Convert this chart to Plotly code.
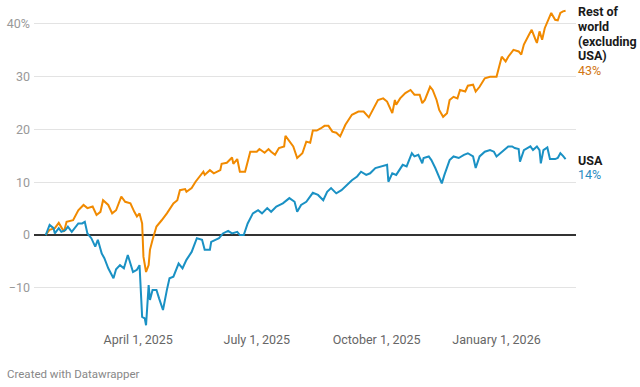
import plotly.graph_objects as go

# ---- Data (cumulative % change since Jan 20, 2025) ----
row_dates = [
    "2025-01-20", "2025-01-23", "2025-01-27", "2025-01-30", "2025-02-03", "2025-02-05",
    "2025-02-10", "2025-02-14", "2025-02-18", "2025-02-21", "2025-02-25", "2025-02-28",
    "2025-03-03", "2025-03-05", "2025-03-09", "2025-03-12", "2025-03-15", "2025-03-19",
    "2025-03-22", "2025-03-26", "2025-03-29", "2025-03-31", "2025-04-02", "2025-04-04",
    "2025-04-05", "2025-04-07", "2025-04-09", "2025-04-10", "2025-04-12", "2025-04-15",
    "2025-04-19", "2025-04-23", "2025-04-28", "2025-05-01", "2025-05-03", "2025-05-07",
    "2025-05-08", "2025-05-12", "2025-05-15", "2025-05-21", "2025-05-22", "2025-05-26",
    "2025-05-29", "2025-06-03", "2025-06-04", "2025-06-08", "2025-06-12", "2025-06-13",
    "2025-06-16", "2025-06-18", "2025-06-22", "2025-06-24", "2025-06-26", "2025-07-01",
    "2025-07-03", "2025-07-07", "2025-07-10", "2025-07-12", "2025-07-15", "2025-07-18",
    "2025-07-22", "2025-07-23", "2025-07-26", "2025-07-29", "2025-08-01", "2025-08-05",
    "2025-08-08", "2025-08-11", "2025-08-13", "2025-08-16", "2025-08-19", "2025-08-22",
    "2025-08-25", "2025-08-28", "2025-08-31", "2025-09-03", "2025-09-07", "2025-09-12",
    "2025-09-17", "2025-09-21", "2025-09-25", "2025-09-28", "2025-10-02", "2025-10-06",
    "2025-10-09", "2025-10-13", "2025-10-15", "2025-10-16", "2025-10-19", "2025-10-23",
    "2025-10-27", "2025-10-30", "2025-11-03", "2025-11-05", "2025-11-07", "2025-11-11",
    "2025-11-13", "2025-11-16", "2025-11-18", "2025-11-21", "2025-11-24", "2025-11-26",
    "2025-11-29", "2025-12-02", "2025-12-04", "2025-12-08", "2025-12-10", "2025-12-14",
    "2025-12-16", "2025-12-19", "2025-12-23", "2025-12-27", "2026-01-01", "2026-01-03",
    "2026-01-05", "2026-01-08", "2026-01-10", "2026-01-14", "2026-01-18", "2026-01-20",
    "2026-01-22", "2026-01-26", "2026-01-28", "2026-01-31", "2026-02-01", "2026-02-03",
    "2026-02-05", "2026-02-07", "2026-02-11", "2026-02-12", "2026-02-15", "2026-02-17",
    "2026-02-19", "2026-02-21", "2026-02-23",
]
row_values = [
    0.0, 1.0, 1.3, 2.3, 0.6, 2.5,
    2.8, 4.7, 5.7, 5.1, 5.4, 3.8,
    4.4, 6.6, 5.7, 4.1, 4.7, 7.3,
    6.3, 6.0, 4.4, 3.5, 4.1, 2.2,
    -4.1, -7.0, -5.7, -2.8, -0.9, 1.6,
    2.8, 4.1, 6.0, 6.6, 8.5, 8.7,
    8.2, 8.9, 10.1, 12.0, 11.4, 12.3,
    11.7, 12.3, 13.5, 13.7, 14.7, 13.5,
    14.4, 12.0, 12.0, 14.2, 15.8, 15.8,
    16.3, 15.6, 16.3, 15.8, 15.2, 16.5,
    16.8, 18.8, 17.7, 16.8, 14.6, 15.5,
    17.7, 17.5, 19.8, 19.8, 20.2, 20.7,
    20.7, 19.6, 19.4, 18.7, 20.9, 22.8,
    23.4, 23.4, 22.3, 23.7, 25.6, 25.9,
    25.3, 23.1, 25.6, 24.7, 25.9, 26.9,
    27.5, 26.6, 26.6, 25.0, 25.6, 28.1,
    27.5, 25.6, 23.7, 22.4, 23.1, 25.6,
    26.2, 25.9, 27.5, 27.2, 28.3, 28.5,
    27.2, 28.1, 29.7, 30.0, 30.0, 31.9,
    33.8, 32.9, 33.8, 35.1, 34.8, 34.2,
    36.1, 38.0, 38.9, 37.0, 36.4, 38.6,
    37.0, 39.2, 41.7, 42.1, 40.8, 40.7,
    42.1, 42.4, 42.5,
]

usa_dates = [
    "2025-01-20", "2025-01-23", "2025-01-26", "2025-01-27", "2025-01-30", "2025-02-01",
    "2025-02-04", "2025-02-06", "2025-02-09", "2025-02-11", "2025-02-14", "2025-02-17",
    "2025-02-19", "2025-02-21", "2025-02-24", "2025-02-27", "2025-03-01", "2025-03-04",
    "2025-03-06", "2025-03-09", "2025-03-13", "2025-03-15", "2025-03-18", "2025-03-21",
    "2025-03-24", "2025-03-28", "2025-03-31", "2025-04-02", "2025-04-04", "2025-04-06",
    "2025-04-07", "2025-04-09", "2025-04-10", "2025-04-12", "2025-04-15", "2025-04-17",
    "2025-04-20", "2025-04-23", "2025-04-25", "2025-04-28", "2025-05-02", "2025-05-05",
    "2025-05-08", "2025-05-12", "2025-05-16", "2025-05-20", "2025-05-22", "2025-05-26",
    "2025-05-27", "2025-06-02", "2025-06-05", "2025-06-09", "2025-06-12", "2025-06-16",
    "2025-06-18", "2025-06-21", "2025-06-24", "2025-06-28", "2025-07-02", "2025-07-05",
    "2025-07-09", "2025-07-12", "2025-07-16", "2025-07-21", "2025-07-26", "2025-07-30",
    "2025-08-01", "2025-08-04", "2025-08-08", "2025-08-13", "2025-08-17", "2025-08-21",
    "2025-08-24", "2025-08-27", "2025-08-31", "2025-09-04", "2025-09-08", "2025-09-12",
    "2025-09-16", "2025-09-19", "2025-09-23", "2025-09-26", "2025-09-30", "2025-10-05",
    "2025-10-09", "2025-10-10", "2025-10-13", "2025-10-16", "2025-10-19", "2025-10-21",
    "2025-10-24", "2025-10-28", "2025-10-30", "2025-11-02", "2025-11-05", "2025-11-06",
    "2025-11-10", "2025-11-12", "2025-11-15", "2025-11-17", "2025-11-20", "2025-11-22",
    "2025-11-26", "2025-11-29", "2025-12-03", "2025-12-07", "2025-12-10", "2025-12-14",
    "2025-12-16", "2025-12-19", "2025-12-23", "2025-12-27", "2025-12-30", "2026-01-01",
    "2026-01-05", "2026-01-08", "2026-01-10", "2026-01-13", "2026-01-15", "2026-01-18",
    "2026-01-19", "2026-01-22", "2026-01-27", "2026-01-29", "2026-02-01", "2026-02-03",
    "2026-02-04", "2026-02-06", "2026-02-09", "2026-02-11", "2026-02-15", "2026-02-17",
    "2026-02-19", "2026-02-21", "2026-02-23",
]
usa_values = [
    0.0, 1.9, 1.3, 0.3, 1.3, 0.6,
    0.9, 1.6, 0.6, 1.3, 2.2, 2.2,
    2.5, 0.3, -0.6, -2.2, -0.9, -3.5,
    -4.4, -6.3, -8.2, -6.5, -5.7, -6.3,
    -3.8, -7.0, -6.6, -5.7, -15.5, -15.8,
    -17.1, -9.5, -12.3, -10.4, -10.4, -12.0,
    -14.2, -10.4, -8.2, -7.9, -5.4, -6.3,
    -4.7, -3.2, -0.6, -0.9, -2.8, -2.8,
    -1.3, -0.6, 0.3, 0.8, 0.3, 0.6,
    0.0, 0.0, 2.2, 4.1, 4.7, 4.1,
    5.1, 4.4, 5.4, 6.0, 7.0, 6.3,
    4.4, 5.7, 6.3, 8.0, 7.6, 6.6,
    8.2, 8.9, 7.9, 8.5, 9.5, 10.4,
    11.1, 12.0, 11.4, 11.7, 12.7, 13.0,
    13.3, 10.1, 11.7, 11.4, 12.7, 13.3,
    13.0, 15.5, 14.9, 15.2, 13.6, 14.6,
    14.9, 14.2, 12.7, 11.4, 9.8, 11.4,
    14.2, 14.9, 14.6, 15.2, 15.5, 14.9,
    12.7, 14.9, 15.8, 16.1, 15.8, 14.9,
    15.8, 16.5, 16.8, 16.8, 16.5, 16.3,
    13.9, 16.1, 16.8, 16.1, 16.8, 16.1,
    13.6, 16.1, 16.6, 14.4, 14.4, 14.6,
    15.5, 15.0, 14.4,
]

y_tickvals = [-10, 0, 10, 20, 30, 40]
y_ticktext = ["\u221210", "0", "10", "20", "30", "40%"]
x_tickvals = ["2025-04-01", "2025-07-01", "2025-10-01", "2026-01-01"]
x_ticktext = ["April 1, 2025", "July 1, 2025", "October 1, 2025", "January 1, 2026"]

row_label_lines = ["Rest of", "world", "(excluding", "USA)"]
row_end_label = "43%"
usa_label_lines = ["USA"]
usa_end_label = "14%"

ORANGE = "#f18a00"
ORANGE_TXT = "#d27512"
BLUE = "#1a91c4"
BLUE_TXT = "#2a8cbf"
FONT = "Roboto"

fig = go.Figure()
fig.add_trace(go.Scatter(x=row_dates, y=row_values, mode="lines",
                         line=dict(color=ORANGE, width=2), hoverinfo="skip",
                         name="Rest of world (excluding USA)"))
fig.add_trace(go.Scatter(x=usa_dates, y=usa_values, mode="lines",
                         line=dict(color=BLUE, width=2), hoverinfo="skip",
                         name="USA"))

annotations = []
LINE_H = 14.6


def add_block(lines, end_text, y_last, name_color, val_color, top_shift):
    for i, t in enumerate(lines + [end_text]):
        is_val = i == len(lines)
        annotations.append(dict(
            x=1, xref="paper", y=y_last, yref="y", xanchor="left", yanchor="middle",
            yshift=top_shift - i * LINE_H, xshift=0,
            text=t if is_val else "<b>" + t + "</b>", showarrow=False,
            font=dict(family=FONT, size=12.5,
                      color=val_color if is_val else name_color),
            align="left",
        ))


add_block(row_label_lines, row_end_label, row_values[-1], "#1a1a1a", ORANGE_TXT, -1)
add_block(usa_label_lines, usa_end_label, usa_values[-1], "#1a1a1a", BLUE_TXT, -1)

annotations.append(dict(
    x=0, xref="paper", xanchor="left", xshift=-29, y=0, yref="paper", yanchor="middle",
    yshift=-44, text="Created with Datawrapper", showarrow=False,
    font=dict(family=FONT, size=11.5, color="#888888"),
))

fig.update_layout(
    width=640, height=387,
    margin=dict(l=34, r=64, t=5, b=57, autoexpand=False),
    paper_bgcolor="white", plot_bgcolor="white",
    showlegend=False,
    font=dict(family=FONT),
    annotations=annotations,
    xaxis=dict(
        range=["2025-01-11", "2026-03-03"],
        tickvals=x_tickvals, ticktext=x_ticktext,
        showgrid=False, zeroline=False, showline=False, ticks="",
        automargin=False,
        tickfont=dict(family=FONT, size=12.5, color="#666666"),
    ),
    yaxis=dict(
        range=[-18, 43.6],
        tickvals=y_tickvals, ticktext=y_ticktext,
        showgrid=True, gridcolor="#e3e3e3", gridwidth=1,
        zeroline=True, zerolinecolor="#333333", zerolinewidth=2,
        showline=False, ticks="",
        automargin=False,
        ticklabelstandoff=3,
        tickfont=dict(family=FONT, size=12.5, color="#999999"),
    ),
)

fig.write_html(
    "out.html",
    config={"displayModeBar": False, "staticPlot": True},
    post_script="document.body.style.margin='0';document.body.style.overflow='hidden';",
)
